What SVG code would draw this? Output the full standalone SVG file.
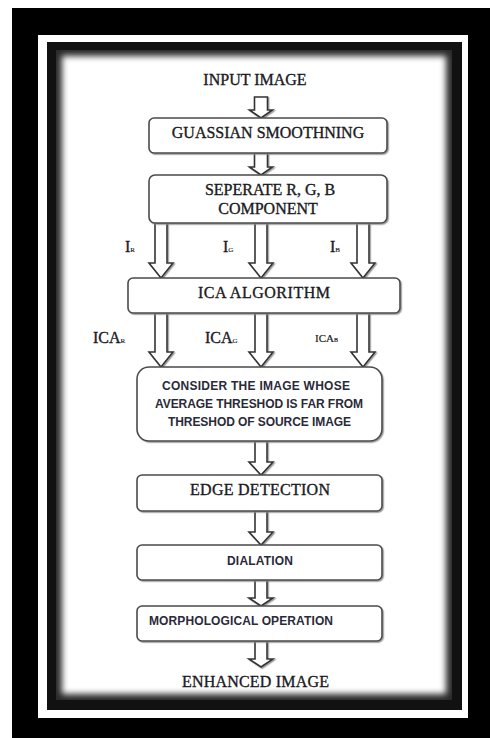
<svg xmlns="http://www.w3.org/2000/svg" width="490" height="738" viewBox="0 0 490 738">
<style>
.box{fill:#fff;stroke:#4a4a4a;stroke-width:1.6}
.arr{fill:#fff;stroke:#333;stroke-width:1.6;stroke-linejoin:miter}
.ser{font-family:"Liberation Serif","Times New Roman",serif;font-size:16px;fill:#1a1a22;stroke:#1a1a22;stroke-width:0.35}
.sans{font-family:"Liberation Sans",Arial,sans-serif;font-weight:bold;font-size:12px;fill:#2a2a3a}
.sub{font-size:7px;stroke-width:0.15}
</style>
<defs>
<filter id="soft" filterUnits="userSpaceOnUse" x="40" y="40" width="420" height="670">
<feGaussianBlur stdDeviation="3.2"/>
</filter>
<clipPath id="innerClip"><rect x="56" y="50" width="396" height="650"/></clipPath>
<filter id="shadow" x="-5%" y="-5%" width="110%" height="120%">
<feDropShadow dx="1.2" dy="1.2" stdDeviation="0.6" flood-color="#888" flood-opacity="0.8"/>
</filter>
</defs>
<g id="frame">
<rect x="0" y="0" width="490" height="738" fill="#fff"/>
<rect x="12" y="8" width="478" height="730" fill="#000"/>
<rect x="38" y="35" width="430" height="683" fill="#fff"/>
<rect x="47" y="42" width="415" height="668" fill="#111"/>
<g clip-path="url(#innerClip)">
<rect x="56" y="50" width="396" height="650" fill="#2a2a2a"/>
<rect x="62" y="56" width="384" height="638" fill="#fff" filter="url(#soft)"/>
</g>
</g>
<g id="connectors" filter="url(#shadow)">
<polygon class="arr" points="254.5,97 267.5,97 267.5,110 272.5,110 261,118 249.5,110 254.5,110"/>
<polygon class="arr" points="254.5,153 267.5,153 267.5,167 272.5,167 261,175 249.5,167 254.5,167"/>
<polygon class="arr" points="155,223 167,223 167,263 173,263 161,278 149,263 155,263"/>
<polygon class="arr" points="255,223 267,223 267,263 273,263 261,278 249,263 255,263"/>
<polygon class="arr" points="357,223 369,223 369,263 375,263 363,278 351,263 357,263"/>
<polygon class="arr" points="155,313 167,313 167,352 173,352 161,367 149,352 155,352"/>
<polygon class="arr" points="255,313 267,313 267,352 273,352 261,367 249,352 255,352"/>
<polygon class="arr" points="357,313 369,313 369,352 375,352 363,367 351,352 357,352"/>
<polygon class="arr" points="255,441 267,441 267,462 273,462 261,475 249,462 255,462"/>
<polygon class="arr" points="255,511 267,511 267,532 273,532 261,545 249,532 255,532"/>
<polygon class="arr" points="255,580 267,580 267,598 273,598 261,606 249,598 255,598"/>
<polygon class="arr" points="255,641 267,641 267,659 273,659 261,667 249,659 255,659"/>
</g>
<g id="labels">
<text class="ser" x="125" y="252">I<tspan class="sub">R</tspan></text>
<text class="ser" x="223" y="252">I<tspan class="sub">G</tspan></text>
<text class="ser" x="330" y="252">I<tspan class="sub">B</tspan></text>
<text class="ser" x="93" y="343">ICA<tspan class="sub">R</tspan></text>
<text class="ser" x="205" y="343">ICA<tspan class="sub">G</tspan></text>
<text class="ser" x="315" y="342" style="font-size:11px;stroke-width:0.2">ICA<tspan style="font-size:6px">B</tspan></text>
</g>
<g id="input">
<text class="ser" x="255" y="85" text-anchor="middle">INPUT IMAGE</text>
</g>
<g id="gaussian">
<rect class="box" x="149" y="118" width="238" height="35" rx="5" filter="url(#shadow)"/>
<text class="ser" x="268" y="138" text-anchor="middle">GUASSIAN SMOOTHNING</text>
</g>
<g id="separate">
<rect class="box" x="149" y="175" width="238" height="48" rx="6" filter="url(#shadow)"/>
<text class="ser" x="270" y="195" text-anchor="middle">SEPERATE R, G, B</text>
<text class="ser" x="268" y="214" text-anchor="middle">COMPONENT</text>
</g>
<g id="ica">
<rect class="box" x="128" y="278" width="272" height="35" rx="5" filter="url(#shadow)"/>
<text class="ser" x="264" y="298" text-anchor="middle" textLength="132">ICA ALGORITHM</text>
</g>
<g id="consider">
<rect class="box" x="137" y="367" width="245" height="74" rx="12" filter="url(#shadow)"/>
<text class="sans" x="256" y="390" text-anchor="middle" textLength="188">CONSIDER THE IMAGE WHOSE</text>
<text class="sans" x="259" y="408" text-anchor="middle" textLength="208">AVERAGE THRESHOD IS FAR FROM</text>
<text class="sans" x="259.5" y="426" text-anchor="middle" textLength="183">THRESHOD OF SOURCE IMAGE</text>
</g>
<g id="edge">
<rect class="box" x="137" y="475" width="245" height="36" rx="5" filter="url(#shadow)"/>
<text class="ser" x="260" y="495" text-anchor="middle" textLength="140">EDGE DETECTION</text>
</g>
<g id="dilation">
<rect class="box" x="137" y="545" width="245" height="35" rx="5" filter="url(#shadow)"/>
<text class="sans" x="260" y="565" text-anchor="middle" textLength="66">DIALATION</text>
</g>
<g id="morph">
<rect class="box" x="137" y="606" width="245" height="35" rx="5" filter="url(#shadow)"/>
<text class="sans" x="149" y="625" textLength="184">MORPHOLOGICAL OPERATION</text>
</g>
<g id="enhanced">
<text class="ser" x="255.5" y="687" text-anchor="middle" textLength="147">ENHANCED IMAGE</text>
</g>
</svg>
